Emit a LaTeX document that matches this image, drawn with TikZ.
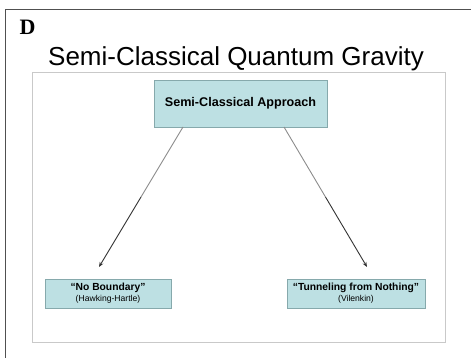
\documentclass[tikz,border=0pt]{standalone}
\usepackage{fontspec}
\setmainfont{Liberation Sans}
\newfontfamily\serifbold{Liberation Serif}
\usetikzlibrary{arrows.meta,calc}
\definecolor{boxfill}{HTML}{BDE0E3}
\definecolor{boxline}{HTML}{86A9AC}
\definecolor{framegray}{HTML}{C9C9C9}
\definecolor{outer}{HTML}{505050}
\tikzset{
  conceptbox/.style={draw=boxline, fill=boxfill, line width=0.8pt, inner sep=0pt, align=center},
  linkarrow/.style={draw=black!80, line width=0.9pt, -{Stealth[length=5pt,width=4pt]}},
  linkfaint/.style={draw=black!45, line width=0.9pt},
}
\begin{document}
\begin{tikzpicture}[x=1pt,y=-1pt]
\useasboundingbox (0,0) rectangle (471,358);
% outer frame (left and top edges)
\draw[outer, line width=1pt] (5.5,358) -- (5.5,9.5) -- (471,9.5);
% inner frame
\draw[framegray, line width=1pt] (32,72.5) rectangle (445,342);
% labels
\node[anchor=base west, inner sep=0pt, font=\serifbold\bfseries\fontsize{22}{22}\selectfont] (lbl) at (19.5,35) {D};
\node[anchor=base, inner sep=0pt, font=\fontsize{26}{26}\selectfont] (title) at (236,66) {Semi-Classical Quantum Gravity};
% boxes
\node[conceptbox, minimum width=173pt, minimum height=47pt, font=\bfseries\fontsize{12.6}{14}\selectfont] (top) at (240.5,103.5) {Semi-Classical Approach};
\node[conceptbox, minimum width=126pt, minimum height=29pt] (nb) at (108,293.5)
  {{\bfseries\fontsize{10.3}{12}\selectfont “No Boundary”}\\[-1pt]{\fontsize{8.6}{10}\selectfont (Hawking-Hartle)}};
\node[conceptbox, minimum width=138pt, minimum height=29pt] (tn) at (356,293.5)
  {{\bfseries\fontsize{10.3}{12}\selectfont “Tunneling from Nothing”}\\[-1pt]{\fontsize{8.6}{10}\selectfont (Vilenkin)}};
% arrow end points
\coordinate (s1) at (183,127);
\coordinate (e1) at (99,267);
\coordinate (s2) at (284,127);
\coordinate (e2) at (367,267);
\coordinate (m1) at ($(s1)!0.5!(e1)$);
\coordinate (m2) at ($(s2)!0.5!(e2)$);
\draw[linkfaint] (s1) -- (m1);
\draw[linkarrow] (m1) -- (e1);
\draw[linkfaint] (s2) -- (m2);
\draw[linkarrow] (m2) -- (e2);
\end{tikzpicture}
\end{document}
